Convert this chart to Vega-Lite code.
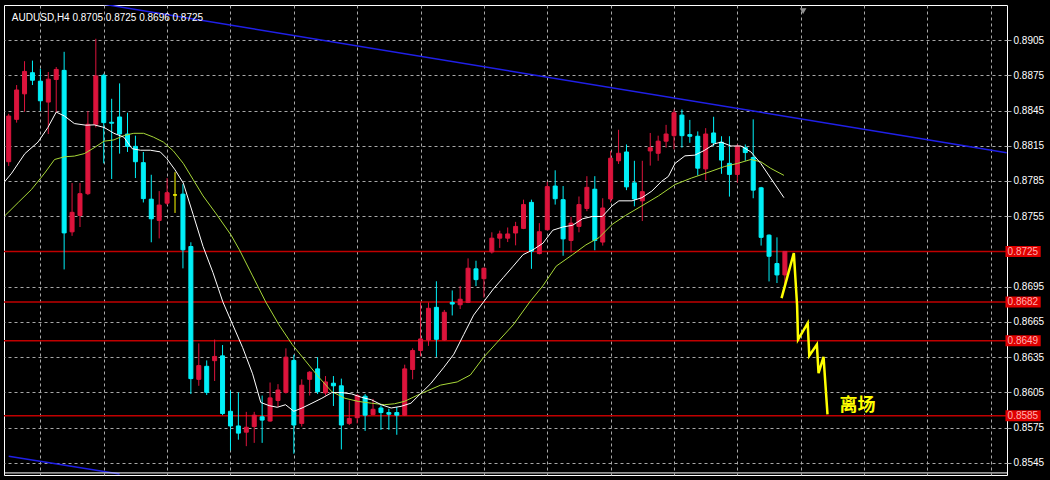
{
  "$schema": "https://vega.github.io/schema/vega-lite/v6.json",
  "width": 1003,
  "height": 470,
  "autosize": {"type": "none"},
  "padding": {"left": 4, "top": 5, "right": 43, "bottom": 5},
  "background": "#000000",
  "config": {
    "view": {"stroke": "#ffffff", "strokeWidth": 1, "fill": "#000000"},
    "axis": {"labelFont": "Liberation Sans", "labelFontSize": 10}
  },
  "datasets": {
    "candles": [
      {"i":0,"o":0.88014,"h":0.88422,"l":0.87978,"c":0.88403,"t":"up"},
      {"i":1,"o":0.88375,"h":0.88667,"l":0.88347,"c":0.88625,"t":"up"},
      {"i":2,"o":0.88592,"h":0.88870,"l":0.88439,"c":0.88783,"t":"up"},
      {"i":3,"o":0.88772,"h":0.88875,"l":0.88667,"c":0.88708,"t":"down"},
      {"i":4,"o":0.88700,"h":0.88806,"l":0.88445,"c":0.88533,"t":"down"},
      {"i":5,"o":0.88522,"h":0.88778,"l":0.88250,"c":0.88717,"t":"up"},
      {"i":6,"o":0.88714,"h":0.88820,"l":0.88431,"c":0.88800,"t":"up"},
      {"i":7,"o":0.88792,"h":0.88950,"l":0.87097,"c":0.87408,"t":"down"},
      {"i":8,"o":0.87417,"h":0.87833,"l":0.87383,"c":0.87583,"t":"up"},
      {"i":9,"o":0.87556,"h":0.87833,"l":0.87458,"c":0.87742,"t":"up"},
      {"i":10,"o":0.87742,"h":0.88445,"l":0.87730,"c":0.88333,"t":"up"},
      {"i":11,"o":0.88333,"h":0.89061,"l":0.88306,"c":0.88745,"t":"up"},
      {"i":12,"o":0.88750,"h":0.88764,"l":0.88000,"c":0.88347,"t":"down"},
      {"i":13,"o":0.88350,"h":0.88550,"l":0.87867,"c":0.88342,"t":"down"},
      {"i":14,"o":0.88395,"h":0.88681,"l":0.88083,"c":0.88250,"t":"down"},
      {"i":15,"o":0.88250,"h":0.88431,"l":0.88097,"c":0.88145,"t":"down"},
      {"i":16,"o":0.88145,"h":0.88236,"l":0.87875,"c":0.88014,"t":"down"},
      {"i":17,"o":0.88006,"h":0.88097,"l":0.87667,"c":0.87700,"t":"down"},
      {"i":18,"o":0.87695,"h":0.87903,"l":0.87328,"c":0.87528,"t":"down"},
      {"i":19,"o":0.87514,"h":0.87764,"l":0.87361,"c":0.87645,"t":"up"},
      {"i":20,"o":0.87661,"h":0.87875,"l":0.87645,"c":0.87750,"t":"up"},
      {"i":21,"o":0.87731,"h":0.87925,"l":0.87578,"c":0.87731,"t":"doji"},
      {"i":22,"o":0.87738,"h":0.87823,"l":0.87106,"c":0.87264,"t":"down"},
      {"i":23,"o":0.87292,"h":0.87328,"l":0.86036,"c":0.86167,"t":"down"},
      {"i":24,"o":0.86161,"h":0.86467,"l":0.86106,"c":0.86278,"t":"up"},
      {"i":25,"o":0.86272,"h":0.86322,"l":0.86028,"c":0.86050,"t":"down"},
      {"i":26,"o":0.86320,"h":0.86500,"l":0.86147,"c":0.86356,"t":"up"},
      {"i":27,"o":0.86361,"h":0.86453,"l":0.85856,"c":0.85870,"t":"down"},
      {"i":28,"o":0.85889,"h":0.86064,"l":0.85556,"c":0.85764,"t":"down"},
      {"i":29,"o":0.85764,"h":0.86050,"l":0.85647,"c":0.85703,"t":"down"},
      {"i":30,"o":0.85711,"h":0.85884,"l":0.85592,"c":0.85753,"t":"up"},
      {"i":31,"o":0.85759,"h":0.85884,"l":0.85620,"c":0.85856,"t":"up"},
      {"i":32,"o":0.85842,"h":0.86023,"l":0.85620,"c":0.85814,"t":"down"},
      {"i":33,"o":0.85806,"h":0.86134,"l":0.85800,"c":0.86003,"t":"up"},
      {"i":34,"o":0.85981,"h":0.86120,"l":0.85925,"c":0.86070,"t":"up"},
      {"i":35,"o":0.86050,"h":0.86425,"l":0.86040,"c":0.86350,"t":"up"},
      {"i":36,"o":0.86322,"h":0.86370,"l":0.85528,"c":0.85772,"t":"down"},
      {"i":37,"o":0.85786,"h":0.86161,"l":0.85759,"c":0.86111,"t":"up"},
      {"i":38,"o":0.86161,"h":0.86231,"l":0.86023,"c":0.86222,"t":"up"},
      {"i":39,"o":0.86250,"h":0.86350,"l":0.86036,"c":0.86056,"t":"down"},
      {"i":40,"o":0.86045,"h":0.86189,"l":0.86023,"c":0.86139,"t":"up"},
      {"i":41,"o":0.86128,"h":0.86189,"l":0.85934,"c":0.86106,"t":"down"},
      {"i":42,"o":0.86106,"h":0.86167,"l":0.85564,"c":0.85772,"t":"down"},
      {"i":43,"o":0.85786,"h":0.85981,"l":0.85772,"c":0.85828,"t":"up"},
      {"i":44,"o":0.85834,"h":0.86036,"l":0.85786,"c":0.86023,"t":"up"},
      {"i":45,"o":0.86017,"h":0.86036,"l":0.85722,"c":0.85856,"t":"down"},
      {"i":46,"o":0.85861,"h":0.85995,"l":0.85856,"c":0.85906,"t":"up"},
      {"i":47,"o":0.85917,"h":0.85939,"l":0.85731,"c":0.85878,"t":"down"},
      {"i":48,"o":0.85878,"h":0.85911,"l":0.85731,"c":0.85864,"t":"down"},
      {"i":49,"o":0.85878,"h":0.85925,"l":0.85689,"c":0.85856,"t":"down"},
      {"i":50,"o":0.85856,"h":0.86286,"l":0.85850,"c":0.86250,"t":"up"},
      {"i":51,"o":0.86245,"h":0.86425,"l":0.86161,"c":0.86406,"t":"up"},
      {"i":52,"o":0.86407,"h":0.86816,"l":0.86357,"c":0.86505,"t":"up"},
      {"i":53,"o":0.86496,"h":0.86816,"l":0.86446,"c":0.86766,"t":"up"},
      {"i":54,"o":0.86774,"h":0.86996,"l":0.86352,"c":0.86502,"t":"down"},
      {"i":55,"o":0.86496,"h":0.86752,"l":0.86490,"c":0.86732,"t":"up"},
      {"i":56,"o":0.86816,"h":0.86918,"l":0.86705,"c":0.86802,"t":"down"},
      {"i":57,"o":0.86796,"h":0.86955,"l":0.86760,"c":0.86843,"t":"up"},
      {"i":58,"o":0.86816,"h":0.87191,"l":0.86810,"c":0.87107,"t":"up"},
      {"i":59,"o":0.87102,"h":0.87171,"l":0.86955,"c":0.87010,"t":"down"},
      {"i":60,"o":0.87018,"h":0.87113,"l":0.86857,"c":0.87107,"t":"up"},
      {"i":61,"o":0.87246,"h":0.87413,"l":0.87232,"c":0.87363,"t":"up"},
      {"i":62,"o":0.87363,"h":0.87427,"l":0.87280,"c":0.87399,"t":"up"},
      {"i":63,"o":0.87363,"h":0.87454,"l":0.87330,"c":0.87399,"t":"up"},
      {"i":64,"o":0.87407,"h":0.87502,"l":0.87302,"c":0.87463,"t":"up"},
      {"i":65,"o":0.87446,"h":0.87691,"l":0.87440,"c":0.87649,"t":"up"},
      {"i":66,"o":0.87668,"h":0.87691,"l":0.87102,"c":0.87252,"t":"down"},
      {"i":67,"o":0.87232,"h":0.87491,"l":0.87225,"c":0.87418,"t":"up"},
      {"i":68,"o":0.87435,"h":0.87843,"l":0.87430,"c":0.87802,"t":"up"},
      {"i":69,"o":0.87807,"h":0.87941,"l":0.87649,"c":0.87699,"t":"down"},
      {"i":70,"o":0.87691,"h":0.87807,"l":0.87213,"c":0.87357,"t":"down"},
      {"i":71,"o":0.87343,"h":0.87546,"l":0.87241,"c":0.87491,"t":"up"},
      {"i":72,"o":0.87463,"h":0.87718,"l":0.87413,"c":0.87649,"t":"up"},
      {"i":73,"o":0.87616,"h":0.87891,"l":0.87593,"c":0.87796,"t":"up"},
      {"i":74,"o":0.87780,"h":0.87891,"l":0.87260,"c":0.87343,"t":"down"},
      {"i":75,"o":0.87330,"h":0.87703,"l":0.87300,"c":0.87620,"t":"up"},
      {"i":76,"o":0.87697,"h":0.88106,"l":0.87668,"c":0.88044,"t":"up"},
      {"i":77,"o":0.88022,"h":0.88286,"l":0.87995,"c":0.88086,"t":"up"},
      {"i":78,"o":0.88097,"h":0.88161,"l":0.87772,"c":0.87800,"t":"down"},
      {"i":79,"o":0.87834,"h":0.88022,"l":0.87634,"c":0.87697,"t":"down"},
      {"i":80,"o":0.87681,"h":0.88022,"l":0.87509,"c":0.87759,"t":"up"},
      {"i":81,"o":0.88106,"h":0.88259,"l":0.87981,"c":0.88134,"t":"up"},
      {"i":82,"o":0.88086,"h":0.88236,"l":0.88022,"c":0.88189,"t":"up"},
      {"i":83,"o":0.88189,"h":0.88328,"l":0.88134,"c":0.88250,"t":"up"},
      {"i":84,"o":0.88236,"h":0.88459,"l":0.88120,"c":0.88431,"t":"up"},
      {"i":85,"o":0.88411,"h":0.88459,"l":0.88134,"c":0.88236,"t":"down"},
      {"i":86,"o":0.88245,"h":0.88370,"l":0.88175,"c":0.88231,"t":"down"},
      {"i":87,"o":0.88231,"h":0.88272,"l":0.87897,"c":0.87959,"t":"down"},
      {"i":88,"o":0.87953,"h":0.88300,"l":0.87856,"c":0.88250,"t":"up"},
      {"i":89,"o":0.88259,"h":0.88397,"l":0.88147,"c":0.88175,"t":"down"},
      {"i":90,"o":0.88180,"h":0.88231,"l":0.87911,"c":0.88028,"t":"down"},
      {"i":91,"o":0.88000,"h":0.88231,"l":0.87717,"c":0.87906,"t":"down"},
      {"i":92,"o":0.87906,"h":0.88161,"l":0.87836,"c":0.88147,"t":"up"},
      {"i":93,"o":0.88134,"h":0.88161,"l":0.88022,"c":0.88092,"t":"down"},
      {"i":94,"o":0.88050,"h":0.88375,"l":0.87703,"c":0.87772,"t":"down"},
      {"i":95,"o":0.87792,"h":0.87800,"l":0.87300,"c":0.87370,"t":"down"},
      {"i":96,"o":0.87389,"h":0.87395,"l":0.86995,"c":0.87209,"t":"down"},
      {"i":97,"o":0.87147,"h":0.87370,"l":0.86981,"c":0.87050,"t":"down"},
      {"i":98,"o":0.8705,"h":0.8725,"l":0.8696,"c":0.8725,"t":"up"}
    ],
    "maWhite": [
      {"i":-0.46,"p":0.87848},{"i":0.38,"p":0.87917},{"i":2.04,"p":0.88083},{"i":3.7,"p":0.88181},
      {"i":4.95,"p":0.88306},{"i":6.0,"p":0.88437},{"i":7.04,"p":0.88403},{"i":8.29,"p":0.88339},
      {"i":9.75,"p":0.88325},{"i":10.79,"p":0.88328},{"i":12.04,"p":0.88306},{"i":13.29,"p":0.88256},
      {"i":14.54,"p":0.88223},{"i":15.58,"p":0.88125},{"i":16.63,"p":0.88112},{"i":17.88,"p":0.88112},
      {"i":19.13,"p":0.88098},{"i":19.95,"p":0.88042},{"i":21.0,"p":0.87945},{"i":22.04,"p":0.87833},
      {"i":23.29,"p":0.87564},{"i":24.54,"p":0.87292},{"i":25.79,"p":0.8707},{"i":27.04,"p":0.8682},
      {"i":28.29,"p":0.86625},{"i":29.54,"p":0.86431},{"i":30.79,"p":0.86208},{"i":31.83,"p":0.85964},
      {"i":32.88,"p":0.85937},{"i":33.91,"p":0.85923},{"i":34.95,"p":0.85945},{"i":36.0,"p":0.85889},
      {"i":37.04,"p":0.85917},{"i":38.29,"p":0.85958},{"i":39.54,"p":0.8600},{"i":40.79,"p":0.86048},
      {"i":42.04,"p":0.86048},{"i":43.29,"p":0.86037},{"i":44.54,"p":0.86008},{"i":45.79,"p":0.85987},
      {"i":47.04,"p":0.85945},{"i":48.29,"p":0.85917},{"i":49.54,"p":0.85931},{"i":50.79,"p":0.85958},
      {"i":52.04,"p":0.86042},{"i":53.29,"p":0.86125},{"i":54.95,"p":0.86264},{"i":56.2,"p":0.86375},
      {"i":57.45,"p":0.86542},{"i":58.7,"p":0.86708},{"i":59.95,"p":0.8682},{"i":61.2,"p":0.86931},
      {"i":62.45,"p":0.87028},{"i":63.7,"p":0.87125},{"i":64.95,"p":0.87223},{"i":66.2,"p":0.87264},
      {"i":67.45,"p":0.8732},{"i":68.7,"p":0.87431},{"i":69.95,"p":0.87458},{"i":71.2,"p":0.87473},
      {"i":72.45,"p":0.87528},{"i":73.7,"p":0.87548},{"i":74.95,"p":0.87548},{"i":76.2,"p":0.87639},
      {"i":77.04,"p":0.87681},{"i":78.7,"p":0.87681},{"i":79.95,"p":0.87708},{"i":81.2,"p":0.87764},
      {"i":82.45,"p":0.87848},{"i":83.29,"p":0.87889},{"i":84.13,"p":0.8800},{"i":85.38,"p":0.88064},
      {"i":86.63,"p":0.8807},{"i":87.88,"p":0.88112},{"i":89.13,"p":0.88167},{"i":89.95,"p":0.88181},
      {"i":91.2,"p":0.88148},{"i":92.45,"p":0.88148},{"i":93.7,"p":0.88098},{"i":94.95,"p":0.8800},
      {"i":96.2,"p":0.87875},{"i":97.88,"p":0.87708}
    ],
    "maGreen": [
      {"i":-0.46,"p":0.87556},{"i":1.2,"p":0.87667},{"i":2.88,"p":0.87778},{"i":4.54,"p":0.87917},
      {"i":5.79,"p":0.88033},{"i":7.04,"p":0.88056},{"i":8.29,"p":0.88062},{"i":9.54,"p":0.88083},
      {"i":10.79,"p":0.88133},{"i":12.04,"p":0.88189},{"i":13.29,"p":0.882},{"i":14.54,"p":0.88237},
      {"i":15.79,"p":0.88256},{"i":17.04,"p":0.88256},{"i":18.29,"p":0.88223},{"i":19.54,"p":0.88181},
      {"i":20.79,"p":0.88106},{"i":22.04,"p":0.880},{"i":23.29,"p":0.87862},{"i":24.54,"p":0.87723},
      {"i":26.2,"p":0.8757},{"i":28.08,"p":0.87389},{"i":29.13,"p":0.87264},{"i":30.79,"p":0.87042},
      {"i":32.45,"p":0.8682},{"i":34.13,"p":0.86625},{"i":35.79,"p":0.86458},{"i":37.45,"p":0.8632},
      {"i":39.13,"p":0.86181},{"i":40.79,"p":0.86056},{"i":42.45,"p":0.8600},{"i":44.13,"p":0.85973},
      {"i":45.79,"p":0.85958},{"i":47.45,"p":0.85945},{"i":48.7,"p":0.85953},{"i":49.95,"p":0.85973},
      {"i":52.04,"p":0.86039},{"i":54.54,"p":0.86112},{"i":56.63,"p":0.86139},{"i":58.29,"p":0.86198},
      {"i":59.95,"p":0.86348},{"i":61.63,"p":0.86473},{"i":63.7,"p":0.86625},{"i":65.79,"p":0.8682},
      {"i":67.45,"p":0.86958},{"i":69.13,"p":0.87125},{"i":71.2,"p":0.87223},{"i":72.88,"p":0.87306},
      {"i":74.54,"p":0.87368},{"i":76.2,"p":0.87481},{"i":77.88,"p":0.87556},{"i":79.95,"p":0.87639},
      {"i":82.04,"p":0.87723},{"i":84.13,"p":0.8782},{"i":86.2,"p":0.87875},{"i":88.29,"p":0.87923},
      {"i":90.38,"p":0.87973},{"i":92.04,"p":0.880},{"i":93.7,"p":0.88033},{"i":94.95,"p":0.88014},
      {"i":96.2,"p":0.87958},{"i":97.88,"p":0.87898}
    ],
    "trend": [
      {"k":"a","i":0,"p":0.89488},{"k":"a","i":126,"p":0.88091},
      {"k":"b","i":0,"p":0.85506},{"k":"b","i":14,"p":0.85355}
    ],
    "zigzag": [
      {"i":97.58,"p":0.86853},{"i":99.13,"p":0.87237},{"i":99.54,"p":0.86792},{"i":99.66,"p":0.8650},
      {"i":100.88,"p":0.86639},{"i":101.08,"p":0.86362},{"i":102.04,"p":0.86458},{"i":102.25,"p":0.86214},
      {"i":102.88,"p":0.86353},{"i":103.38,"p":0.85862}
    ],
    "levels": [
      {"p":0.8725,"lbl":"0.8725"},{"p":0.8682,"lbl":"0.8682"},
      {"p":0.8649,"lbl":"0.8649"},{"p":0.8585,"lbl":"0.8585"}
    ],
    "frame": [
      {"p":0.85364}
    ],
    "notes": [
      {"i":104.88,"p":0.85938,"txt":"离场"}
    ],
    "header": [
      {"i":0.4,"p":0.89239,"txt":"AUDUSD,H4  0.8705 0.8725 0.8696 0.8725"}
    ],
    "shift": [
      {"i":100.3,"p":0.89296}
    ]
  },
  "layer": [
    {
      "data": {"name": "trend"},
      "mark": {"type": "line", "clip": true, "color": "#2020e8", "strokeWidth": 1.5},
      "encoding": {
        "x": {"field": "i", "type": "quantitative", "title": null,
              "scale": {"domain": [0.0375, 125.4125], "nice": false, "zero": false},
              "axis": {"values": [4,8,12,16,20,24,28,32,36,40,44,48,52,56,60,64,68,72,76,80,84,88,92,96,100,104,108,112,116,120,124],
                       "labels": false, "ticks": false, "domain": false, "grid": true,
                       "gridColor": "#a8a8a8", "gridDash": [3, 3], "gridWidth": 1, "title": null}},
        "y": {"field": "p", "type": "quantitative", "title": null,
              "scale": {"domain": [0.85389, 0.89306], "nice": false, "zero": false},
              "axis": {"orient": "right", "values": [0.8545,0.8575,0.8605,0.8635,0.8665,0.8695,0.8755,0.8785,0.8815,0.8845,0.8875,0.8905],
                       "format": ".4f", "labelColor": "#ffffff", "labelFont": "Liberation Sans", "labelFontSize": 10,
                       "labelOverlap": false, "labelBound": false, "labelFlush": false,
                       "tickColor": "#a8a8a8", "tickSize": 4, "labelPadding": 2, "domain": false,
                       "grid": true, "gridColor": "#a8a8a8", "gridDash": [3, 3], "gridWidth": 1, "title": null}},
        "detail": {"field": "k", "type": "nominal"}
      }
    },
    {
      "data": {"name": "levels"},
      "mark": {"type": "rule", "color": "#c00000", "strokeWidth": 1.5},
      "encoding": {
        "y": {"field": "p", "type": "quantitative", "title": null}
      }
    },
    {
      "data": {"name": "frame"},
      "mark": {"type": "rule", "color": "#ffffff", "strokeWidth": 1, "clip": false},
      "encoding": {
        "y": {"field": "p", "type": "quantitative", "title": null}
      }
    },
    {
      "data": {"name": "candles"},
      "mark": {"type": "rule", "clip": true, "strokeWidth": 1},
      "encoding": {
        "x": {"field": "i", "type": "quantitative", "title": null},
        "y": {"field": "l", "type": "quantitative", "title": null},
        "y2": {"field": "h"},
        "color": {"field": "t", "type": "nominal", "legend": null,
                  "scale": {"domain": ["up", "down", "doji"], "range": ["#dc143c", "#00f0f8", "#ffff00"]}}
      }
    },
    {
      "data": {"name": "candles"},
      "mark": {"type": "bar", "clip": true, "size": 4, "strokeWidth": 1},
      "encoding": {
        "x": {"field": "i", "type": "quantitative", "title": null},
        "y": {"field": "o", "type": "quantitative", "title": null},
        "y2": {"field": "c"},
        "color": {"field": "t", "type": "nominal", "legend": null},
        "stroke": {"field": "t", "type": "nominal", "legend": null,
                   "scale": {"domain": ["up", "down", "doji"], "range": ["#dc143c", "#00f0f8", "#ffff00"]}}
      }
    },
    {
      "data": {"name": "maGreen"},
      "mark": {"type": "line", "clip": true, "color": "#a8d838", "strokeWidth": 1},
      "encoding": {
        "x": {"field": "i", "type": "quantitative", "title": null},
        "y": {"field": "p", "type": "quantitative", "title": null}
      }
    },
    {
      "data": {"name": "maWhite"},
      "mark": {"type": "line", "clip": true, "color": "#ffffff", "strokeWidth": 1},
      "encoding": {
        "x": {"field": "i", "type": "quantitative", "title": null},
        "y": {"field": "p", "type": "quantitative", "title": null}
      }
    },
    {
      "data": {"name": "zigzag"},
      "mark": {"type": "line", "clip": true, "color": "#ffff00", "strokeWidth": 2.5},
      "encoding": {
        "x": {"field": "i", "type": "quantitative", "title": null},
        "y": {"field": "p", "type": "quantitative", "title": null}
      }
    },
    {
      "data": {"name": "notes"},
      "mark": {"type": "text", "color": "#ffff00", "font": "Noto Sans CJK SC", "fontSize": 18, "fontWeight": "bold", "align": "left", "baseline": "middle"},
      "encoding": {
        "x": {"field": "i", "type": "quantitative", "title": null},
        "y": {"field": "p", "type": "quantitative", "title": null},
        "text": {"field": "txt"}
      }
    },
    {
      "data": {"name": "header"},
      "mark": {"type": "text", "color": "#ffffff", "font": "Liberation Sans", "fontSize": 10, "align": "left", "baseline": "middle"},
      "encoding": {
        "x": {"field": "i", "type": "quantitative", "title": null},
        "y": {"field": "p", "type": "quantitative", "title": null},
        "text": {"field": "txt"}
      }
    },
    {
      "data": {"name": "shift"},
      "mark": {"type": "point", "shape": "triangle-down", "filled": true, "color": "#909090", "size": 45, "clip": false, "opacity": 1},
      "encoding": {
        "x": {"field": "i", "type": "quantitative", "title": null},
        "y": {"field": "p", "type": "quantitative", "title": null}
      }
    },
    {
      "data": {"name": "levels"},
      "mark": {"type": "bar", "orient": "horizontal", "clip": false, "size": 11, "color": "#e00000"},
      "encoding": {
        "x": {"datum": 125.85},
        "x2": {"datum": 130.3},
        "y": {"field": "p", "type": "quantitative", "title": null}
      }
    },
    {
      "data": {"name": "levels"},
      "mark": {"type": "text", "clip": false, "color": "#ffb0b0", "font": "Liberation Sans", "fontSize": 10, "align": "center", "baseline": "middle", "dy": 0.5},
      "encoding": {
        "x": {"datum": 128.05},
        "y": {"field": "p", "type": "quantitative", "title": null},
        "text": {"field": "lbl"}
      }
    }
  ]
}
